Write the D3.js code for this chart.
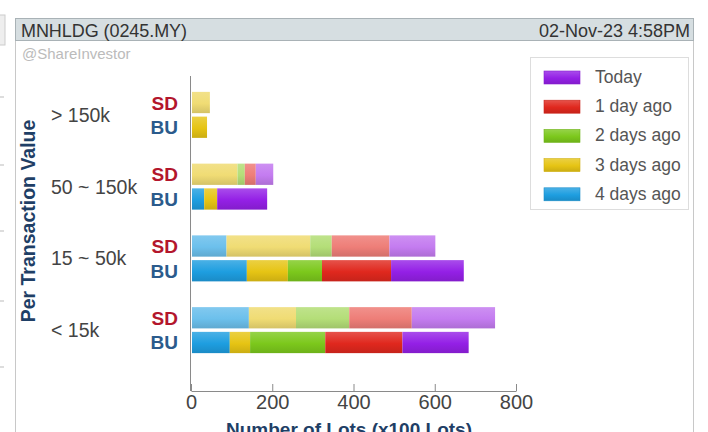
<!DOCTYPE html>
<html>
<head>
<meta charset="utf-8">
<script src="https://cdn.jsdelivr.net/npm/d3@7"></script>
<style>
  body { margin: 0; background: #fff; }
  text { font-family: "Liberation Sans", Arial, sans-serif; }
</style>
</head>
<body>
<div id="chart"></div>
<script>
var categories = ["> 150k", "50 ~ 150k", "15 ~ 50k", "< 15k"];
var sides = ["SD", "BU"];
var series = ["4 days ago", "3 days ago", "2 days ago", "1 day ago", "Today"];
var legendOrder = ["Today", "1 day ago", "2 days ago", "3 days ago", "4 days ago"];
var xTicks = [0, 200, 400, 600, 800];

// values per series, one per category (x100 lots)
var sdValues = {
  "4 days ago": [0, 0, 85, 140],
  "3 days ago": [44, 112, 206, 116],
  "2 days ago": [0, 18, 53, 131],
  "1 day ago": [0, 27, 142, 154],
  "Today": [0, 43, 113, 205]
};
var buValues = {
  "4 days ago": [0, 30, 135, 93],
  "3 days ago": [37, 32, 101, 50],
  "2 days ago": [0, 0, 84, 185],
  "1 day ago": [0, 0, 170, 190],
  "Today": [0, 123, 179, 163]
};

var strong = { "4 days ago": "#1e9ee0", "3 days ago": "#e6c414", "2 days ago": "#7cc81c", "1 day ago": "#e0281e", "Today": "#9420e6" };
var pale = { "4 days ago": "#6cc0ec", "3 days ago": "#f0dc74", "2 days ago": "#b4de78", "1 day ago": "#ee7e78", "Today": "#c47cf0" };

var w = 708, h = 432;
var svg = d3.select("#chart").append("svg").attr("width", w).attr("height", h);
var defs = svg.append("defs");

function grad(id, c, light) {
  var g = defs.append("linearGradient").attr("id", id).attr("x1", 0).attr("y1", 0).attr("x2", 0).attr("y2", 1);
  g.append("stop").attr("offset", "0%").attr("stop-color", d3.interpolateRgb(c, "#fff")(light));
  g.append("stop").attr("offset", "55%").attr("stop-color", c);
  g.append("stop").attr("offset", "100%").attr("stop-color", d3.color(c).darker(0.35));
}
series.forEach(function (s, i) {
  grad("bu" + i, strong[s], 0.2);
  grad("sd" + i, pale[s], 0.15);
});

// bits of the page behind the widget
svg.append("rect").attr("x", -1).attr("y", 15).attr("width", 6).attr("height", 30)
  .attr("fill", "#eee").attr("stroke", "#ccc");
[97, 165, 231, 301, 367].forEach(function (yy) {
  svg.append("line").attr("x1", 0).attr("x2", 4).attr("y1", yy).attr("y2", yy).attr("stroke", "#bbb");
});

// frame + header
svg.append("rect").attr("x", 15.5).attr("y", 18.5).attr("width", 678).attr("height", 430)
  .attr("fill", "#fff").attr("stroke", "#c8c8c8");
svg.append("rect").attr("x", 15.5).attr("y", 18.5).attr("width", 678).attr("height", 22)
  .attr("fill", "#d6dee1").attr("stroke", "#a9b2b6");
svg.append("text").attr("x", 21).attr("y", 37).attr("font-size", 18).attr("fill", "#333")
  .attr("textLength", 166).text("MNHLDG (0245.MY)");
svg.append("text").attr("x", 690).attr("y", 37).attr("font-size", 18).attr("fill", "#333")
  .attr("text-anchor", "end").text("02-Nov-23 4:58PM");
svg.append("text").attr("x", 22).attr("y", 59).attr("font-size", 15).attr("fill", "#bbb")
  .text("@ShareInvestor");

var x = d3.scaleLinear().domain([0, 800]).range([191, 516]);
var y = d3.scaleBand().domain(categories).range([79, 366]);
var sub = d3.scaleBand().domain(sides).range([-23, 23]).paddingInner(0.14);

// bars
categories.forEach(function (cat, ci) {
  sides.forEach(function (side) {
    var vals = side === "SD" ? sdValues : buValues;
    var acc = 0;
    var segs = series.map(function (s, si) {
      var seg = { s: s, si: si, x0: acc, x1: acc + vals[s][ci] };
      acc += vals[s][ci];
      return seg;
    }).filter(function (d) { return d.x1 > d.x0; });
    var yc = y(cat) + y.bandwidth() / 2;
    svg.append("g").selectAll("rect").data(segs).enter().append("rect")
      .attr("x", function (d) { return x(d.x0) + 1; })
      .attr("y", yc + sub(side))
      .attr("width", function (d) { return x(d.x1) - x(d.x0); })
      .attr("height", sub.bandwidth())
      .attr("fill", function (d) { return "url(#" + (side === "SD" ? "sd" : "bu") + d.si + ")"; });
    svg.append("text").attr("x", 178).attr("y", yc + sub(side) + sub.bandwidth() / 2 + 7)
      .attr("text-anchor", "end").attr("font-size", 19).attr("font-weight", "bold")
      .attr("fill", side === "SD" ? "#b3162c" : "#2b5b8c").text(side);
  });
  svg.append("text").attr("x", 51).attr("y", y(cat) + y.bandwidth() / 2 + 7)
    .attr("font-size", 19.5).attr("fill", "#444").text(cat);
});

// axes
svg.append("line").attr("x1", 190.5).attr("x2", 190.5).attr("y1", 76).attr("y2", 391)
  .attr("stroke", "#8a8a8a");
var xAxis = svg.append("g").attr("transform", "translate(0,391)")
  .call(d3.axisBottom(x).tickValues(xTicks).tickSizeInner(-7).tickSizeOuter(0).tickPadding(4));
xAxis.select(".domain").attr("stroke", "#8a8a8a");
xAxis.selectAll(".tick line").attr("stroke", "#8a8a8a");
xAxis.selectAll(".tick text").attr("font-size", 20).attr("fill", "#444")
  .attr("font-family", "Liberation Sans, Arial, sans-serif");

svg.append("text").attr("x", 349).attr("y", 436).attr("text-anchor", "middle")
  .attr("font-size", 19).attr("font-weight", "bold").attr("fill", "#1f3f66")
  .text("Number of Lots (x100 Lots)");
svg.append("text").attr("transform", "translate(35,221) rotate(-90)").attr("text-anchor", "middle")
  .attr("font-size", 19.5).attr("font-weight", "bold").attr("fill", "#1f3f66")
  .text("Per Transaction Value");

// legend
var lg = svg.append("g");
lg.append("rect").attr("x", 530.5).attr("y", 57.5).attr("width", 158).attr("height", 152)
  .attr("fill", "#fff").attr("stroke", "#ddd");
legendOrder.forEach(function (s, i) {
  var ly = 77 + i * 29.2;
  lg.append("rect").attr("x", 544).attr("y", ly - 6).attr("width", 36).attr("height", 13)
    .attr("fill", "url(#bu" + series.indexOf(s) + ")").attr("stroke", d3.color(strong[s]).darker(0.3)).attr("stroke-width", 0.6);
  lg.append("text").attr("x", 595).attr("y", ly + 6).attr("font-size", 17.5).attr("fill", "#555").text(s);
});
</script>
</body>
</html>
